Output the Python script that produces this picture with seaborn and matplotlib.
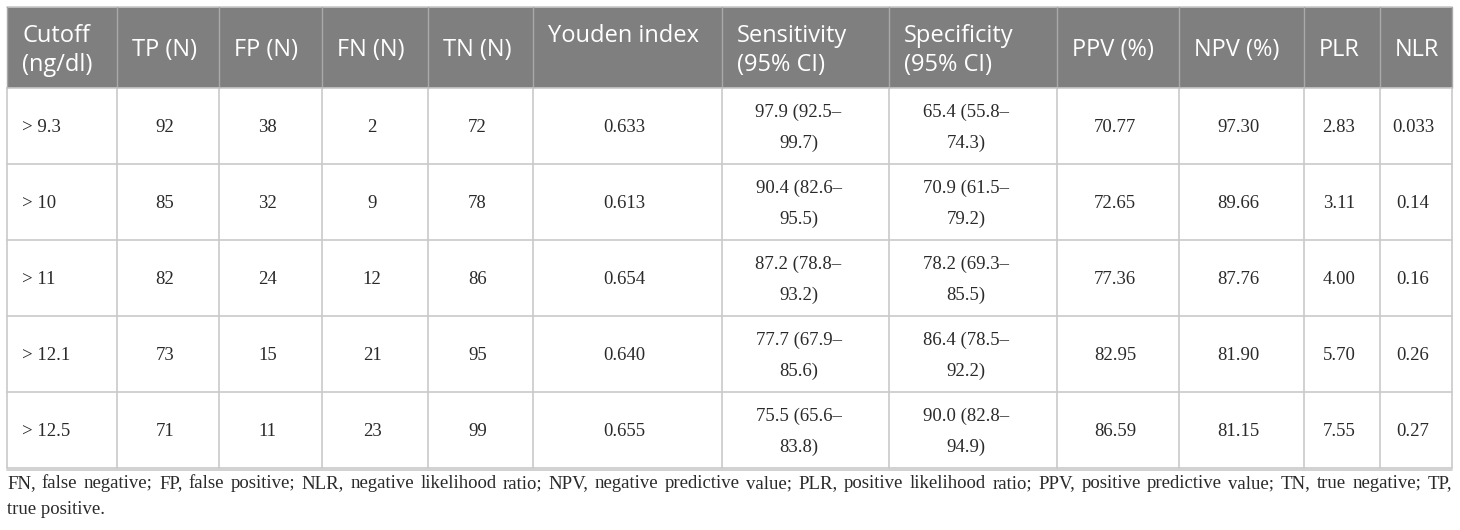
import matplotlib
matplotlib.use("Agg")
import matplotlib.pyplot as plt
import seaborn as sns

# table content
headers = ["Cutoff\n(ng/dl)", "TP (N)", "FP (N)", "FN (N)", "TN (N)", "Youden index",
           "Sensitivity\n(95% CI)", "Specificity\n(95% CI)", "PPV (%)", "NPV (%)", "PLR", "NLR"]
cutoffs = ["> 9.3", "> 10", "> 11", "> 12.1", "> 12.5"]
tp = [92, 85, 82, 73, 71]
fp = [38, 32, 24, 15, 11]
fn = [2, 9, 12, 21, 23]
tn = [72, 78, 86, 95, 99]
youden = ["0.633", "0.613", "0.654", "0.640", "0.655"]
sensitivity = ["97.9 (92.5\u2013\n99.7)", "90.4 (82.6\u2013\n95.5)", "87.2 (78.8\u2013\n93.2)",
               "77.7 (67.9\u2013\n85.6)", "75.5 (65.6\u2013\n83.8)"]
specificity = ["65.4 (55.8\u2013\n74.3)", "70.9 (61.5\u2013\n79.2)", "78.2 (69.3\u2013\n85.5)",
               "86.4 (78.5\u2013\n92.2)", "90.0 (82.8\u2013\n94.9)"]
ppv = ["70.77", "72.65", "77.36", "82.95", "86.59"]
npv = ["97.30", "89.66", "87.76", "81.90", "81.15"]
plr = ["2.83", "3.11", "4.00", "5.70", "7.55"]
nlr = ["0.033", "0.14", "0.16", "0.26", "0.27"]
footnote = ["FN, false negative; FP, false positive; NLR, negative likelihood ratio; NPV, negative "
            "predictive value; PLR, positive likelihood ratio; PPV, positive predictive value; TN, true negative; TP,",
            "true positive."]

# layout in pixels
col_edges = [7, 117, 219, 322, 428, 533, 722, 889, 1057, 1179, 1304, 1380, 1452]
head_top, head_bot = 7, 88
row_h = 76

sns.set_style("white")
fig = plt.figure(figsize=(14.6, 5.3), dpi=100)
ax = fig.add_axes([0, 0, 1, 1])
ax.set_xlim(0, 1460)
ax.set_ylim(530, 0)
ax.axis("off")

grid_c = "#c9c9c9"
head_c = "#7f7f7f"
text_c = "#2a2a2a"

# header band
ax.add_patch(plt.Rectangle((col_edges[0], head_top), col_edges[-1] - col_edges[0],
                           head_bot - head_top, color=head_c, lw=0))
for i, h in enumerate(headers):
    x = col_edges[i] + 15
    if "\n" in h or h == "Youden index":
        for k, ln in enumerate(h.split("\n")):
            ax.text(x, 36 + 29 * k, ln, color="white", fontsize=17, family="Open Sans",
                    ha="left", va="center")
    else:
        ax.text(x, 50, h, color="white", fontsize=17, family="Open Sans",
                ha="left", va="center")

# body
columns = [cutoffs, tp, fp, fn, tn, youden, sensitivity, specificity, ppv, npv, plr, nlr]
n_rows = len(cutoffs)
for r in range(n_rows):
    yc = head_bot + row_h * r + row_h / 2 + 1.5
    for c, col in enumerate(columns):
        val = str(col[r])
        if c == 0:
            ax.text(col_edges[0] + 15, yc, val, color=text_c, fontsize=13.5,
                    family="Liberation Serif", ha="left", va="center")
        elif "\n" in val:
            xc = (col_edges[c] + col_edges[c + 1]) / 2 - 7
            top, bot = val.split("\n")
            ax.text(xc, yc - 15.5, top, color=text_c, fontsize=13.5, family="Liberation Serif",
                    ha="center", va="center")
            ax.text(xc, yc + 15.5, bot, color=text_c, fontsize=13.5, family="Liberation Serif",
                    ha="center", va="center")
        else:
            xc = (col_edges[c] + col_edges[c + 1]) / 2 - 3
            ax.text(xc, yc, val, color=text_c, fontsize=13.5, family="Liberation Serif",
                    ha="center", va="center")

# grid lines
body_bot = head_bot + row_h * n_rows
for r in range(n_rows + 1):
    y = head_bot + row_h * r
    ax.plot([col_edges[0], col_edges[-1]], [y, y], color=grid_c, lw=1.2)
ax.plot([col_edges[0], col_edges[-1]], [head_top, head_top], color=grid_c, lw=1.2)
for x in col_edges:
    ax.plot([x, x], [head_top, head_bot], color="#a9a9a9", lw=1.0)
    ax.plot([x, x], [head_bot, body_bot], color=grid_c, lw=1.2)
ax.plot([col_edges[0], col_edges[-1]], [body_bot + 1.5, body_bot + 1.5], color=grid_c, lw=1.2)

# footnote: first line justified to the table width, last line left aligned
renderer = fig.canvas.get_renderer()
fn_kw = dict(color=text_c, fontsize=13.5, family="Liberation Serif", va="center", ha="left")
for k, ln in enumerate(footnote):
    y = 484 + 26 * k
    words = ln.split(" ")
    if k == len(footnote) - 1:
        ax.text(col_edges[0], y, ln, **fn_kw)
        continue
    arts = [ax.text(0, y, w, **fn_kw) for w in words]
    widths = [a.get_window_extent(renderer).width for a in arts]
    gap = (col_edges[-1] - col_edges[0] - sum(widths)) / (len(words) - 1)
    x = col_edges[0]
    for a, w in zip(arts, widths):
        a.set_x(x)
        x += w + gap

fig.savefig("out.png", dpi=100)
